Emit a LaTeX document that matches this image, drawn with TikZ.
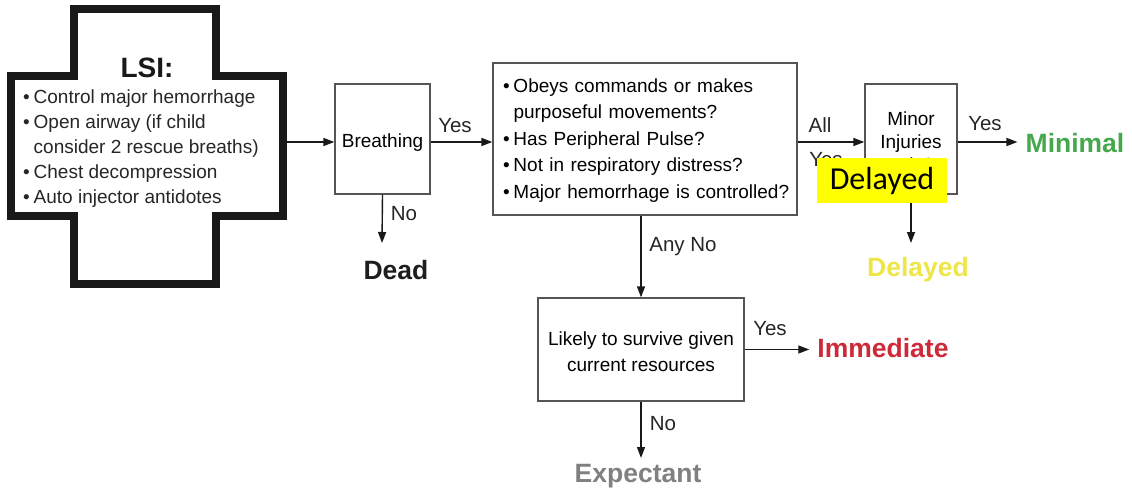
\documentclass[tikz,border=0pt]{standalone}
\usepackage{fontspec}
\setmainfont{Liberation Sans}
\newfontfamily\calib{Carlito}
\usetikzlibrary{arrows.meta}
\definecolor{boxgray}{RGB}{85,85,85}
\definecolor{crossc}{RGB}{25,25,25}
\definecolor{deadc}{RGB}{30,30,30}
\definecolor{minc}{RGB}{70,168,76}
\definecolor{immc}{RGB}{204,42,56}
\definecolor{delc}{RGB}{238,230,70}
\definecolor{expc}{RGB}{128,128,128}
\definecolor{hly}{RGB}{255,255,0}
\newcommand{\bul}{\makebox[10.5pt][l]{\textbullet}}
\newcommand{\bulind}{\hspace*{10.5pt}}
\begin{document}
\begin{tikzpicture}[x=1pt,y=-1pt,
  box/.style={draw=boxgray, line width=1.3pt, inner sep=0pt, align=center,
    font=\fontsize{19}{23}\selectfont},
  arr/.style={draw=black!90, line width=1.4pt, -{Triangle[length=11pt,width=8pt]}},
  lbl/.style={font=\fontsize{20.5}{24}\selectfont, inner sep=0pt, text=black!85},
  outc/.style={font=\fontsize{26.5}{30}\selectfont\bfseries, inner xsep=8pt, inner ysep=0pt},
  txt/.style={font=\fontsize{19}{25}\selectfont, inner sep=0pt, anchor=base west, text=black!85}]
\useasboundingbox (0,0) rectangle (1132,497);
\fill[white] (0,0) rectangle (1132,497);

% cross
\draw[line width=8pt, draw=crossc, miter limit=10]
  (74,9) -- (216,9) -- (216,76) -- (283,76) -- (283,216) -- (216,216)
  -- (216,284) -- (74,284) -- (74,216) -- (11,216) -- (11,76) -- (74,76) -- cycle;
\node[font=\fontsize{28}{30}\selectfont\bfseries, inner sep=0pt, text=black!90] (lsi) at (147,68) {LSI:};
\node[txt] (l1) at (23,104) {\bul Control major hemorrhage};
\node[txt] (l2) at (23,129) {\bul Open airway (if child};
\node[txt] (l3) at (23,154) {\bulind consider 2 rescue breaths)};
\node[txt] (l4) at (23,179) {\bul Chest decompression};
\node[txt] (l5) at (23,204) {\bul Auto injector antidotes};
\coordinate (lsiR) at (287,142);

% boxes
\node[box, minimum width=95pt, minimum height=110pt] (breath) at (382.5,139) {\rule{0pt}{20pt}Breathing};
\node[box, minimum width=304pt, minimum height=152pt, text width=302pt, align=left,
  font=\fontsize{19}{26.5}\selectfont] (big) at (645,139)
  {\hspace*{9pt}\bul \rule{0pt}{16pt}Obeys commands or makes\\
   \hspace*{9pt}\bulind purposeful movements?\\
   \hspace*{9pt}\bul Has Peripheral Pulse?\\
   \hspace*{9pt}\bul Not in respiratory distress?\\
   \hspace*{9pt}\bul Major hemorrhage is controlled?};
\node[box, minimum width=92pt, minimum height=110pt] (minor) at (911,139)
  {\rule{0pt}{22pt}Minor\\Injuries\\only?};
\node[box, minimum width=206pt, minimum height=103pt, font=\fontsize{19}{26}\selectfont]
  (likely) at (641,349.5) {\rule{0pt}{18pt}Likely to survive given\\current resources};

% outcomes
\node[outc, text=deadc] (dead) at (396,270) {Dead};
\node[outc, text=minc] (minimal) at (1075,143) {Minimal};
\node[outc, text=immc] (immediate) at (883,348) {Immediate};
\node[outc, text=delc] (delayed) at (918,270) {Delayed};
\node[outc, text=expc] (expectant) at (638,476) {Expectant};

\coordinate (deadIn) at (382,243);
\coordinate (delIn) at (911,243);
\coordinate (expIn) at (641,458);

% connectors
\draw[arr] (lsiR) -- (lsiR -| breath.west);
\draw[arr] (breath.east |- lsiR) -- (big.west |- lsiR);
\draw[arr] (big.east |- lsiR) -- (minor.west |- lsiR);
\draw[arr] (minor.east |- lsiR) -- (minimal.west |- lsiR);
\draw[arr] (breath.south) -- (deadIn);
\draw[arr] (likely.north |- big.south) -- (likely.north);
\draw[arr] (likely.east) -- (likely.east -| immediate.west);
\draw[arr] (likely.south) -- (expIn);
\draw[arr] (minor.south) -- (delIn);

% labels
\node[lbl] (yes1) at (455,126) {Yes};
\node[lbl] (no1) at (404,214) {No};
\node[lbl] (all) at (820,125) {All};
\node[lbl] (yes2) at (826,160) {Yes};
\node[lbl] (yes3) at (985,124) {Yes};
\node[lbl] (anyno) at (683,247) {Any No};
\node[lbl] (yes4) at (770,329) {Yes};
\node[lbl] (no2) at (663,424) {No};

% highlight overlay
\node[fill=hly, minimum width=130pt, minimum height=45pt, inner sep=0pt,
  font=\calib\fontsize{32}{34}\selectfont] (hl) at (882,180.5) {Delayed};
\end{tikzpicture}
\end{document}
